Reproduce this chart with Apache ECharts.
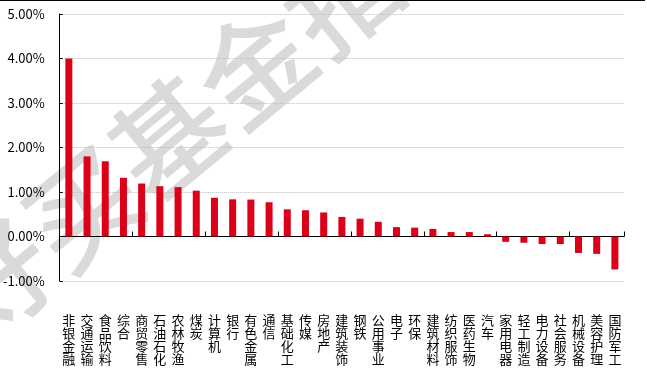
<!DOCTYPE html>
<html><head><meta charset="utf-8">
<script src="https://cdn.jsdelivr.net/npm/echarts@6/dist/echarts.min.js"></script>
<style>html,body{margin:0;padding:0;background:#fff}#c{width:647px;height:375px}</style>
</head><body><div id="c"></div>
<script>
const categories = ['非银金融','交通运输','食品饮料','综合','商贸零售','石油石化','农林牧渔','煤炭','计算机','银行','有色金属','通信','基础化工','传媒','房地产','建筑装饰','钢铁','公用事业','电子','环保','建筑材料','纺织服饰','医药生物','汽车','家用电器','轻工制造','电力设备','社会服务','机械设备','美容护理','国防军工'];
const values = [4.00,1.80,1.69,1.32,1.19,1.13,1.11,1.03,0.87,0.835,0.83,0.77,0.61,0.59,0.54,0.44,0.40,0.33,0.21,0.20,0.17,0.10,0.10,0.05,-0.12,-0.14,-0.17,-0.17,-0.37,-0.39,-0.74];
const yTicks = {min:-1, max:5, interval:1};
const watermark = '好买基金指数';

const chart = echarts.init(document.getElementById('c'));
const font = '"Noto Sans CJK SC", "Noto Sans", sans-serif';
chart.setOption({
  animation:false,
  backgroundColor:'#fff',
  graphic:[
    {type:'text', z:-10, x:212, y:102, rotation:0.69,
     style:{text:watermark, font:'500 112px "Noto Sans CJK SC"', fill:'#dadada', align:'center', verticalAlign:'middle'}},
    {type:'line', z:10, shape:{x1:0,y1:0.5,x2:645,y2:0.5}, style:{stroke:'#000', lineWidth:1.2}}
  ],
  grid:{left:59, right:23, top:14, bottom:94, containLabel:false},
  xAxis:[
    {type:'category', data:categories, position:'bottom',
     axisLine:{show:false, onZero:false}, axisTick:{show:false},
     axisLabel:{interval:0, margin:33, fontSize:13, lineHeight:13, color:'#000', fontFamily:font,
       formatter:v=>v.split('').join('\n')}},
    {type:'category', data:categories, position:'top',
     axisLine:{show:true, onZero:true, lineStyle:{color:'#000', width:1}},
     axisTick:{show:true, length:5, lineStyle:{color:'#000'}},
     axisLabel:{show:false}}
  ],
  yAxis:{type:'value', min:yTicks.min, max:yTicks.max, interval:yTicks.interval,
    axisLine:{show:true, lineStyle:{color:'#000'}},
    axisTick:{show:true, inside:true, length:3, lineStyle:{color:'#000'}},
    axisLabel:{margin:15, fontSize:13, color:'#000', fontFamily:font, formatter:v=>v.toFixed(2)+'%'},
    splitLine:{show:true, lineStyle:{color:'#bdbdbd', type:'dotted', width:1}}
  },
  series:[{type:'bar', xAxisIndex:0, data:values, barWidth:7, itemStyle:{color:'#dc0019'}, z:5}]
});
</script></body></html>
